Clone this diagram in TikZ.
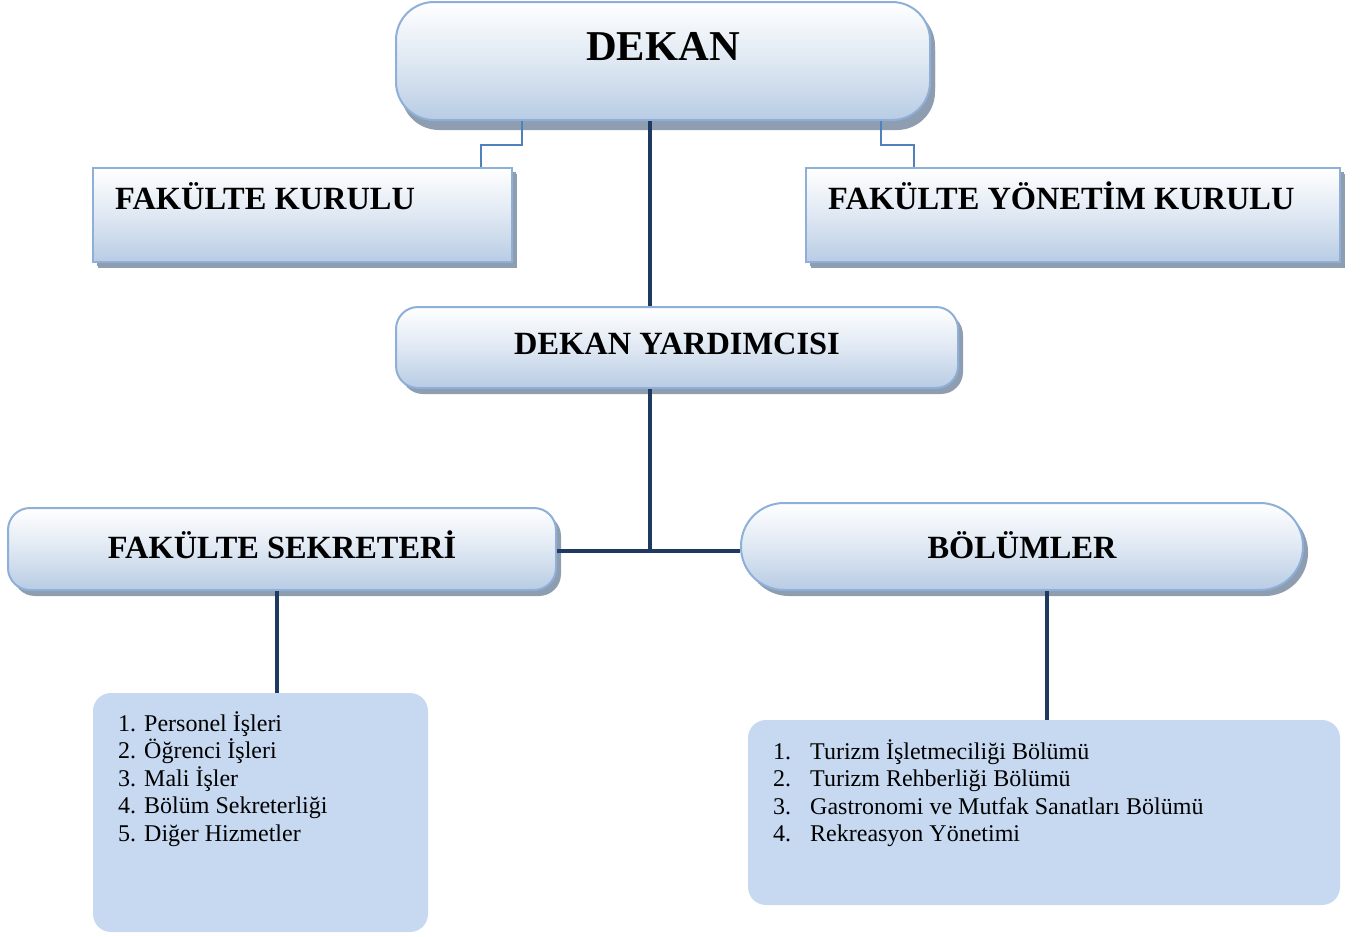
\documentclass[tikz,border=0pt]{standalone}
\usepackage{fontspec}
\setmainfont{Liberation Serif}
\usetikzlibrary{shadows,calc}
\definecolor{bordc}{HTML}{8EAFD8}
\definecolor{gradc}{HTML}{B8CCE4}
\definecolor{shadc}{HTML}{8F9DB0}
\definecolor{linkblue}{HTML}{4F81BD}
\definecolor{navy}{HTML}{1F3A60}
\definecolor{listc}{HTML}{C6D9F1}
\tikzset{
  boxbase/.style={draw=bordc, line width=2pt, top color=white, bottom color=gradc,
    middle color=white!55!gradc, inner sep=0pt,
    drop shadow={shadow xshift=5pt, shadow yshift=-6pt, fill=shadc, opacity=1}},
  roundbox/.style={boxbase, rectangle, rounded corners=#1},
  sqbox/.style={boxbase, rectangle, drop shadow={shadow xshift=4pt, shadow yshift=-4pt, fill=shadc, opacity=1}},
  bigtitle/.style={font=\bfseries\fontsize{32.4}{36}\selectfont, inner sep=0pt},
  listbox/.style={fill=listc, draw=none, rectangle, rounded corners=18pt},
  listtext/.style={font=\fontsize{24}{27.5}\selectfont, align=left, inner sep=0pt, anchor=north west},
  bluelink/.style={draw=linkblue, line width=2.5pt},
  navylink/.style={draw=navy, line width=3.5pt},
}
\begin{document}
\begin{tikzpicture}[x=1pt,y=-1pt]
\useasboundingbox (0,0) rectangle (1360,937);
% boxes
\node[roundbox=38pt, minimum width=534pt, minimum height=118pt,
  drop shadow={shadow xshift=5pt, shadow yshift=-10pt, fill=shadc, opacity=1}] (dekan) at (663,61) {};
\node[font=\bfseries\fontsize{42.5}{48}\selectfont, inner sep=0pt] (dekantxt) at (663,47) {DEKAN};
\node[sqbox, minimum width=419pt, minimum height=94pt] (fk) at (302.5,215) {};
\node[bigtitle, anchor=base west] (fktxt) at (115,209) {FAKÜLTE KURULU};
\node[sqbox, minimum width=534pt, minimum height=94pt] (fyk) at (1073,215) {};
\node[bigtitle, anchor=base west] (fyktxt) at (828,209) {FAKÜLTE YÖNETİM KURULU};
\node[roundbox=22pt, minimum width=562pt, minimum height=81pt] (yard) at (677,347.5) {};
\node[bigtitle] (yardtxt) at (677,344) {DEKAN YARDIMCISI};
\node[roundbox=22pt, minimum width=548pt, minimum height=82pt] (fs) at (282,549) {};
\node[bigtitle] (fstxt) at (282,545) {FAKÜLTE SEKRETERİ};
\node[roundbox=43pt, minimum width=562pt, minimum height=87pt] (bol) at (1022,546.5) {};
\node[bigtitle] (boltxt) at (1022,545) {BÖLÜMLER};
\node[listbox, minimum width=335pt, minimum height=239pt] (llist) at (260.5,812.5) {};
\node[listbox, minimum width=592pt, minimum height=185pt] (rlist) at (1044,812.5) {};
\node[listtext] (ltxt) at (118,711) {1. Personel İşleri\\2. Öğrenci İşleri\\3. Mali İşler\\4. Bölüm Sekreterliği\\5. Diğer Hizmetler};
\node[listtext] (rtxt) at (773,739) {%
\begin{tabular}{@{}p{37pt}@{}l@{}}
1. & Turizm İşletmeciliği Bölümü\\
2. & Turizm Rehberliği Bölümü\\
3. & Gastronomi ve Mutfak Sanatları Bölümü\\
4. & Rekreasyon Yönetimi
\end{tabular}};
% coordinates
\coordinate (lk1) at (522,0);
\coordinate (rk1) at (881,0);
\coordinate (cx) at (650,0);
\coordinate (sx) at (277,0);
\coordinate (bx) at (1047,0);
\coordinate (midj) at (650,551);
\coordinate (kinkL) at (481,145);
\coordinate (kinkR) at (914,145);
% connectors
\draw[bluelink] (dekan.south -| lk1) |- (kinkL) -- (fk.north -| kinkL);
\draw[bluelink] (dekan.south -| rk1) |- (kinkR) -- (fyk.north -| kinkR);
\draw[navylink] (dekan.south -| cx) -- (yard.north -| cx);
\draw[navylink] (yard.south -| cx) -- (midj);
\draw[navylink] (fs.east |- midj) -- (bol.west |- midj);
\draw[navylink] (fs.south -| sx) -- (llist.north -| sx);
\draw[navylink] (bol.south -| bx) -- (rlist.north -| bx);
\end{tikzpicture}
\end{document}
